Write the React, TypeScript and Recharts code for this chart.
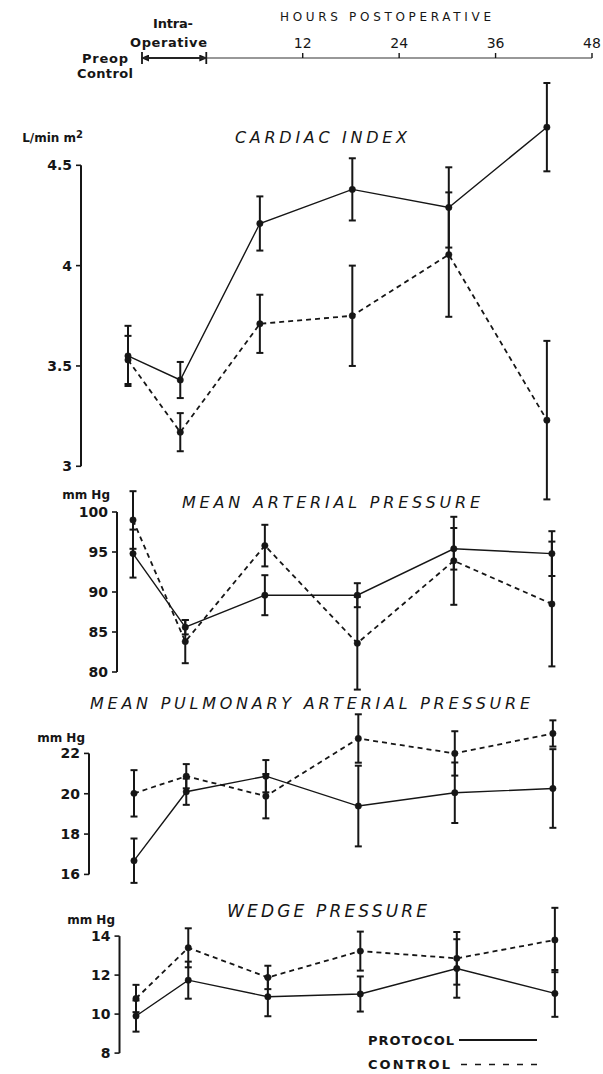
import React from 'react';
import {
  ComposedChart,
  Line,
  ErrorBar,
  XAxis,
  YAxis,
  ReferenceLine,
  Legend,
} from 'recharts';

const INK = '#161616';
const FONT = '"DejaVu Sans", Verdana, sans-serif';

// sampling times, hours after end of operation (preop and intra-op drawn to the left of 0)
const timepointLabels = ['Preop Control', 'Intra-Operative', '6 h', '18 h', '30 h', '42 h'];
const timepointHours = [-10.4, -3.9, 6, 17.5, 29.5, 41.7];
const hourTicks = [12, 24, 36, 48];
const seriesOrder = ['protocol', 'control'];

// cardiac index, L/min m2 (mean, error)
const ciProtocol = [3.55, 3.43, 4.21, 4.38, 4.29, 4.69];
const ciProtocolErr = [0.15, 0.09, 0.135, 0.155, 0.2, 0.22];
const ciControl = [3.53, 3.17, 3.71, 3.75, 4.055, 3.23];
const ciControlErr = [0.12, 0.095, 0.145, 0.25, 0.31, 0.395];
const ciTicks = [3, 3.5, 4, 4.5];

// mean arterial pressure, mm Hg
const mapProtocol = [94.8, 85.6, 89.6, 89.6, 95.4, 94.8];
const mapProtocolErr = [3.0, 0.9, 2.5, 1.5, 2.6, 2.8];
const mapControl = [99.0, 83.8, 95.8, 83.6, 93.9, 88.5];
const mapControlErr = [3.6, 2.7, 2.6, 5.8, 5.5, 7.8];
const mapTicks = [80, 85, 90, 95, 100];

// mean pulmonary arterial pressure, mm Hg
const mpapProtocol = [16.68, 20.1, 20.87, 19.39, 20.05, 20.26];
const mpapProtocolErr = [1.1, 0.65, 0.8, 2.0, 1.5, 1.95];
const mpapControl = [20.02, 20.87, 19.88, 22.74, 22.0, 22.99];
const mpapControlErr = [1.15, 0.6, 1.1, 1.2, 1.1, 0.65];
const mpapTicks = [16, 18, 20, 22];

// wedge pressure, mm Hg
const wedgeProtocol = [9.9, 11.74, 10.89, 11.03, 12.34, 11.06];
const wedgeProtocolErr = [0.8, 0.95, 1.0, 0.9, 1.5, 1.2];
const wedgeControl = [10.8, 13.4, 11.88, 13.23, 12.86, 13.8];
const wedgeControlErr = [0.7, 1.0, 0.6, 1.0, 1.35, 1.65];
const wedgeTicks = [8, 10, 12, 14];

const PX_PER_HOUR = 8.04;
const PLOT_RIGHT = 600;

const panels = [
  {
    key: 'ci', title: 'CARDIAC INDEX', titleX: 235, titleW: 172, titleY: 137, titleSize: 16,
    unit: 'L/min m', unitSup: '2', unitX: 83, unitY: 138,
    protocol: ciProtocol, protocolErr: ciProtocolErr, control: ciControl, controlErr: ciControlErr,
    ticks: ciTicks, domain: [2.8, 4.95], calib: [{ v: 4.5, y: 165.7 }, { v: 3, y: 466.7 }],
    axisX: 81, preopX: 128,
  },
  {
    key: 'map', title: 'MEAN ARTERIAL PRESSURE', titleX: 182, titleW: 298, titleY: 502, titleSize: 16,
    unit: 'mm Hg', unitX: 110, unitY: 495,
    protocol: mapProtocol, protocolErr: mapProtocolErr, control: mapControl, controlErr: mapControlErr,
    ticks: mapTicks, domain: [76, 104], calib: [{ v: 100, y: 511.7 }, { v: 80, y: 671.7 }],
    axisX: 117, preopX: 133,
  },
  {
    key: 'mpap', title: 'MEAN PULMONARY ARTERIAL PRESSURE', titleX: 90, titleW: 440, titleY: 703, titleSize: 16,
    unit: 'mm Hg', unitX: 85, unitY: 738,
    protocol: mpapProtocol, protocolErr: mpapProtocolErr, control: mpapControl, controlErr: mpapControlErr,
    ticks: mpapTicks, domain: [15, 24.5], calib: [{ v: 22, y: 753.3 }, { v: 16, y: 874.3 }],
    axisX: 89, preopX: 134,
  },
  {
    key: 'wedge', title: 'WEDGE PRESSURE', titleX: 227, titleW: 200, titleY: 911, titleSize: 17,
    unit: 'mm Hg', unitX: 115, unitY: 920,
    protocol: wedgeProtocol, protocolErr: wedgeProtocolErr, control: wedgeControl, controlErr: wedgeControlErr,
    ticks: wedgeTicks, domain: [7.5, 15.8], calib: [{ v: 14, y: 936 }, { v: 8, y: 1053 }],
    axisX: 119.5, preopX: 136,
  },
];

const LEGEND_LEFT = 360;
const LEGEND_TOP = 1029.5;

function LegendBox(props: any) {
  const payload = [...(props.payload || [])].sort(
    (a: any, b: any) => seriesOrder.indexOf(String(a.dataKey)) - seriesOrder.indexOf(String(b.dataKey))
  );
  return (
    <svg width={190} height={46} style={{ overflow: 'visible' }}>
      {payload.map((entry: any, i: number) => {
        const isControl = entry.dataKey === 'control';
        const cy = 11 + i * 24.5;
        return (
          <g key={String(entry.dataKey)}>
            <text
              x={8}
              y={cy}
              dominantBaseline="central"
              fontFamily={FONT}
              fontSize={13}
              fontWeight={600}
              fill={INK}
              textLength={isControl ? 82 : 86}
              lengthAdjust="spacing"
            >
              {entry.value}
            </text>
            <line
              x1={isControl ? 101 : 99}
              x2={177}
              y1={cy}
              y2={cy}
              stroke={INK}
              strokeWidth={isControl ? 1.6 : 2}
              strokeDasharray={isControl ? '6 8' : undefined}
            />
          </g>
        );
      })}
    </svg>
  );
}

function Panel({ p, showLegend }: { p: any; showLegend: boolean }) {
  const ppu = (p.calib[1].y - p.calib[0].y) / (p.calib[0].v - p.calib[1].v);
  const top = p.calib[0].y - (p.domain[1] - p.calib[0].v) * ppu;
  const bottom = p.calib[1].y + (p.calib[1].v - p.domain[0]) * ppu;
  const hLeft = timepointHours[0] - (p.preopX - p.axisX) / PX_PER_HOUR;
  const hRight = hLeft + (PLOT_RIGHT - p.axisX) / PX_PER_HOUR;

  const data = timepointHours.map((h, i) => ({
    hour: h,
    label: timepointLabels[i],
    protocol: p.protocol[i],
    protocolErr: p.protocolErr[i],
    control: p.control[i],
    controlErr: p.controlErr[i],
  }));

  const dotStyle = { r: 3.2, fill: INK, stroke: INK, strokeWidth: 0.5, strokeDasharray: 'none' };

  return (
    <div style={{ position: 'absolute', left: 0, top }}>
      <ComposedChart
        width={603}
        height={bottom - top}
        data={data}
        margin={{ top: 0, right: 603 - PLOT_RIGHT, bottom: 0, left: 0 }}
      >
        <XAxis type="number" dataKey="hour" domain={[hLeft, hRight]} allowDataOverflow hide />
        <YAxis
          type="number"
          domain={p.domain}
          allowDataOverflow
          ticks={p.ticks}
          interval={0}
          width={p.axisX}
          axisLine={false}
          tickLine={{ stroke: INK, strokeWidth: 1.6 }}
          tickSize={5}
          tickMargin={4}
          tick={{ fill: INK, fontSize: 14, fontWeight: 700, fontFamily: FONT }}
          tickFormatter={(v: number) => String(v)}
        />
        <ReferenceLine
          ifOverflow="visible"
          segment={[
            { x: hLeft, y: p.ticks[0] },
            { x: hLeft, y: p.ticks[p.ticks.length - 1] },
          ]}
          stroke={INK}
          strokeWidth={2}
        />
        <Line
          type="linear"
          dataKey="protocol"
          name="PROTOCOL"
          stroke={INK}
          strokeWidth={1.4}
          dot={dotStyle}
          activeDot={false}
          isAnimationActive={false}
        >
          <ErrorBar dataKey="protocolErr" direction="y" width={3.5} strokeWidth={2} stroke={INK} />
        </Line>
        <Line
          type="linear"
          dataKey="control"
          name="CONTROL"
          stroke={INK}
          strokeWidth={1.8}
          strokeDasharray="5 4"
          dot={dotStyle}
          activeDot={false}
          isAnimationActive={false}
        >
          <ErrorBar dataKey="controlErr" direction="y" width={3.5} strokeWidth={2} stroke={INK} />
        </Line>
        {showLegend && (
          <Legend
            layout="vertical"
            align="center"
            verticalAlign="middle"
            content={<LegendBox />}
            wrapperStyle={{
              left: LEGEND_LEFT,
              top: LEGEND_TOP - top,
              bottom: 'auto',
              width: 190,
              height: 46,
            }}
          />
        )}
      </ComposedChart>
    </div>
  );
}

function TopAxis() {
  const axisData = hourTicks.map((h) => ({ hour: h, level: 0.5 }));
  return (
    <div style={{ position: 'absolute', left: 0, top: 28 }}>
      <ComposedChart width={603} height={40} data={axisData} margin={{ top: 0, right: 11, bottom: 0, left: 142 }}>
        <XAxis
          type="number"
          dataKey="hour"
          orientation="top"
          domain={[-8, 48]}
          allowDataOverflow
          ticks={hourTicks}
          interval={0}
          height={30}
          axisLine={{ stroke: '#333', strokeWidth: 1.2 }}
          tickLine={{ stroke: INK, strokeWidth: 1.4 }}
          tickSize={5}
          tickMargin={5}
          tick={{ fill: INK, fontSize: 14, fontFamily: FONT }}
        />
        <YAxis type="number" dataKey="level" domain={[0, 1]} allowDataOverflow hide />
        <ReferenceLine ifOverflow="visible" segment={[{ x: -8, y: 1.6 }, { x: -8, y: 0.4 }]} stroke={INK} strokeWidth={1.8} />
        <ReferenceLine ifOverflow="visible" segment={[{ x: 0, y: 1.6 }, { x: 0, y: 0.4 }]} stroke={INK} strokeWidth={1.8} />
        <ReferenceLine
          ifOverflow="visible"
          segment={[{ x: -8, y: 1 }, { x: 0, y: 1 }]}
          stroke={INK}
          strokeWidth={2}
          markerStart="url(#arrowHead)"
          markerEnd="url(#arrowHead)"
        />
      </ComposedChart>
    </div>
  );
}

function Txt({ x, y, w, size, weight, italic, anchor, children }: any) {
  return (
    <text
      x={x}
      y={y}
      textLength={w}
      lengthAdjust={w ? 'spacing' : undefined}
      dominantBaseline="central"
      textAnchor={anchor || 'start'}
      fontSize={size}
      fontFamily={FONT}
      fontWeight={weight || 400}
      fontStyle={italic ? 'italic' : 'normal'}
      fill={INK}
    >
      {children}
    </text>
  );
}

export default function App() {
  return (
    <div style={{ position: 'absolute', left: 0, top: 0, width: 603, height: 1074, background: '#fff', overflow: 'hidden' }}>
      <svg width={0} height={0} style={{ position: 'absolute' }}>
        <defs>
          <marker id="arrowHead" markerWidth={8} markerHeight={7} refX={7} refY={3.5} orient="auto-start-reverse" markerUnits="userSpaceOnUse">
            <path d="M0,0 L8,3.5 L0,7 z" fill={INK} />
          </marker>
        </defs>
      </svg>

      <TopAxis />
      {panels.map((p, i) => (
        <Panel key={p.key} p={p} showLegend={i === panels.length - 1} />
      ))}

      <svg width={603} height={1074} style={{ position: 'absolute', left: 0, top: 0, pointerEvents: 'none' }}>
        <Txt x={280} y={17} w={211} size={12}>HOURS POSTOPERATIVE</Txt>
        <Txt x={153} y={23} w={40} size={13} weight={600}>Intra-</Txt>
        <Txt x={130} y={42} w={77} size={13} weight={600}>Operative</Txt>
        <Txt x={82} y={58} w={46} size={13} weight={600}>Preop</Txt>
        <Txt x={77} y={73} w={56} size={13} weight={600}>Control</Txt>

        {panels.map((p) => (
          <g key={p.key}>
            <Txt x={p.titleX} y={p.titleY} w={p.titleW} size={p.titleSize} italic>
              {p.title}
            </Txt>
            <text
              x={p.unitX}
              y={p.unitY}
              dominantBaseline="central"
              textAnchor="end"
              fontSize={12}
              fontFamily={FONT}
              fontWeight={600}
              fill={INK}
            >
              {p.unit}
              {p.unitSup && (
                <tspan dy={-4} fontSize={10}>
                  {p.unitSup}
                </tspan>
              )}
            </text>
          </g>
        ))}
      </svg>
    </div>
  );
}
